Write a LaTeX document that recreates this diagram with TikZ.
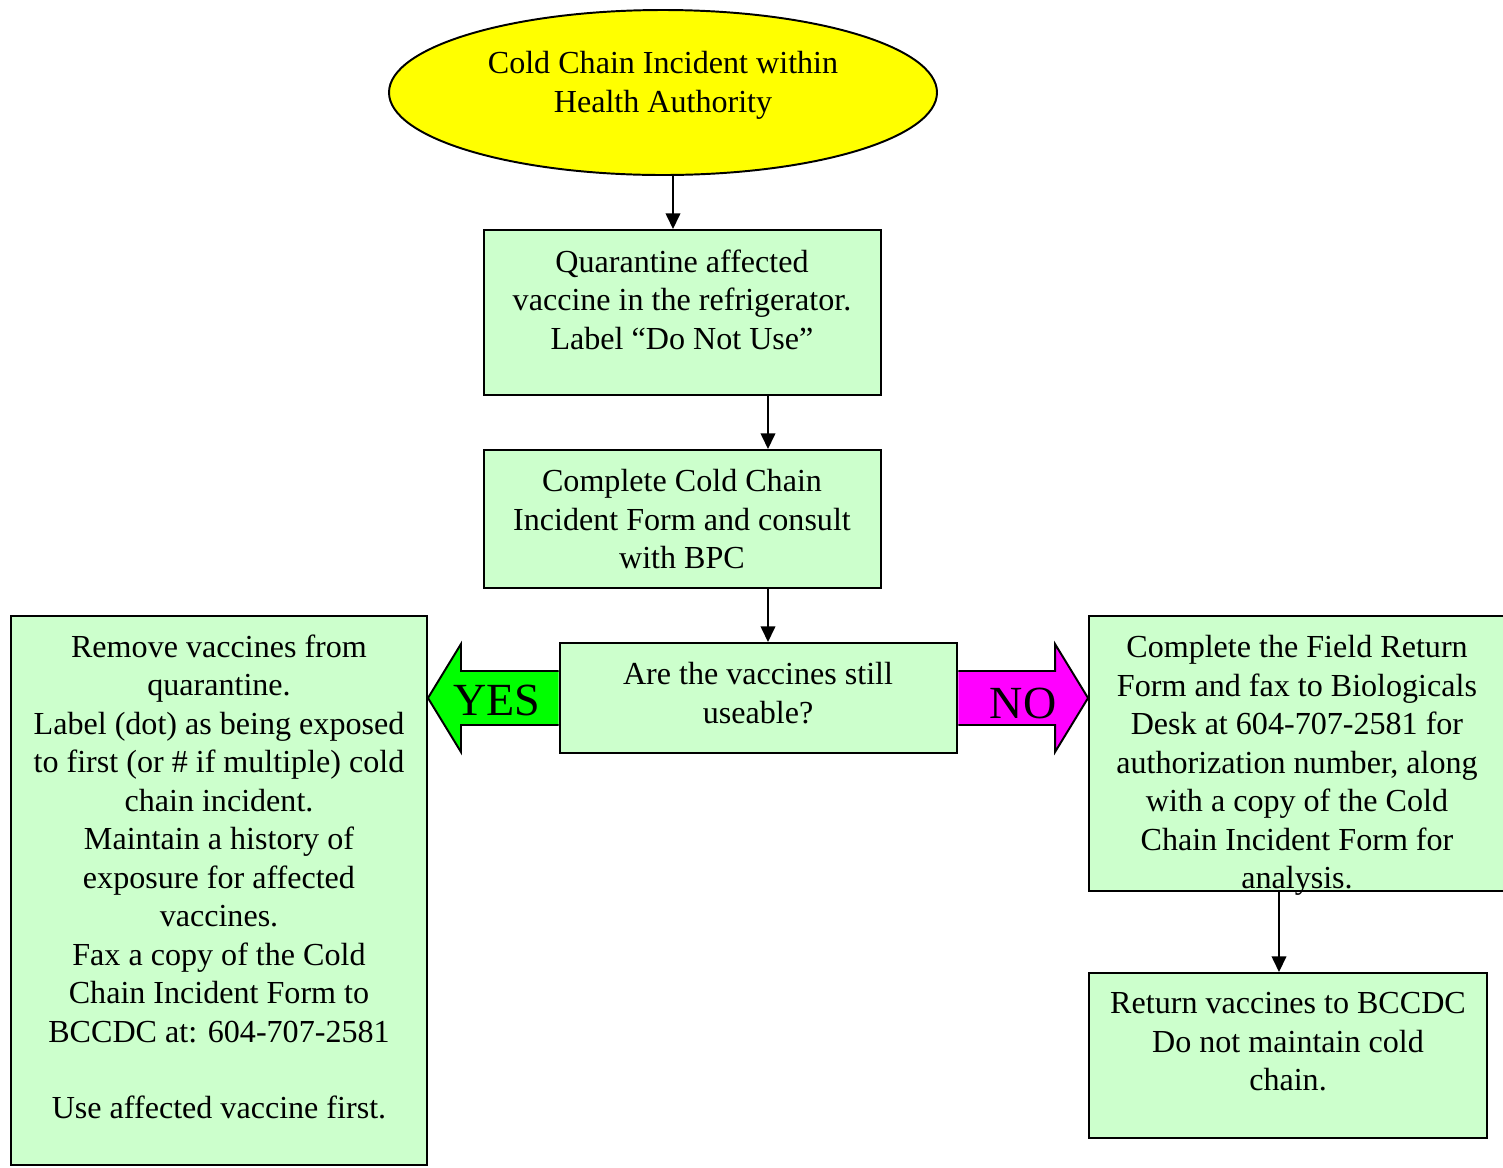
\documentclass[tikz,border=0pt]{standalone}
\usepackage{fontspec}
\setmainfont{Liberation Serif}
\usetikzlibrary{arrows.meta,calc,shapes.geometric}
\newcommand\pxu{0.3584pt}
\definecolor{boxgreen}{HTML}{CCFFCC}
\definecolor{startyellow}{HTML}{FFFF00}
\definecolor{yesgreen}{HTML}{00FF00}
\definecolor{nomagenta}{HTML}{FF00FF}
\tikzset{
  box/.style={draw, rectangle, line width=0.7pt, fill=boxgreen, inner sep=0},
  txt/.style={font=\fontsize{11.5pt}{13.8pt}\selectfont, align=center, inner sep=0, anchor=north},
  arr/.style={-{Triangle[length=5.6pt,width=5.2pt]}, line width=0.7pt},
  blockarrow/.style={line width=0.7pt, line join=miter},
  bigword/.style={font=\fontsize{16.5pt}{18pt}\selectfont, inner sep=0}
}
\begin{document}
\begin{tikzpicture}[x=\pxu,y=-\pxu]
\useasboundingbox (0,0) rectangle (1503,1167);

% start ellipse
\node[ellipse, draw, fill=startyellow, line width=0.7pt, inner sep=0,
      minimum width=548*\pxu, minimum height=165*\pxu] (start) at (663,92.5) {};
\node[txt, anchor=center] (starttxt) at (663,85.5) {Cold Chain Incident within\\Health Authority};

% boxes
\node[box, minimum width=397*\pxu, minimum height=165*\pxu] (b1) at (682.5,312.5) {};
\node[txt] (t1) at (682,249) {Quarantine affected\\vaccine in the refrigerator.\\Label “Do Not Use”};

\node[box, minimum width=397*\pxu, minimum height=138*\pxu] (b2) at (682.5,519) {};
\node[txt] (t2) at (682,469) {Complete Cold Chain\\Incident Form and consult\\with BPC};

\node[box, minimum width=397*\pxu, minimum height=110*\pxu] (dec) at (758.5,698) {};
\node[txt] (tdec) at (758,662) {Are the vaccines still\\useable?};

\node[box, minimum width=416*\pxu, minimum height=549*\pxu] (left) at (219,890.5) {};
\node[txt] (tleft) at (219,634) {Remove vaccines from\\quarantine.\\Label (dot) as being exposed\\to first (or \# if multiple) cold\\chain incident.\\Maintain a history of\\exposure for affected\\vaccines.\\Fax a copy of the Cold\\Chain Incident Form to\\BCCDC at: 604-707-2581\\[13.4pt]Use affected vaccine first.};

\node[box, minimum width=421*\pxu, minimum height=275*\pxu] (right) at (1299.5,753.5) {};

\node[box, minimum width=398*\pxu, minimum height=165*\pxu] (ret) at (1288,1055.5) {};
\node[txt] (tret) at (1288,992) {Return vaccines to BCCDC\\Do not maintain cold\\chain.};

% connectors
\draw[arr] ($(start.south)+(10,0)$) -- ($(b1.north)+(-9.5,0)$);
\draw[arr] ($(b1.south)+(85.5,0)$) -- ($(b2.north)+(85.5,0)$);
\draw[arr] ($(b2.south)+(85.5,0)$) -- ($(dec.north)+(9.5,0)$);
\draw[arr] ($(right.south)+(-20.5,0)$) -- ($(ret.north)+(-9,0)$);

\node[txt] (tright) at (1297,635) {Complete the Field Return\\Form and fax to Biologicals\\Desk at 604-707-2581 for\\authorization number, along\\with a copy of the Cold\\Chain Incident Form for\\analysis.};

% YES block arrow
\coordinate (ytip) at (left.east |- dec.west);
\draw[blockarrow, fill=yesgreen] ($(dec.west)+(-0.5,-27)$) -- ($(ytip)+(33,-27)$) -- ($(ytip)+(33,-54)$) -- (ytip) -- ($(ytip)+(33,54)$) -- ($(ytip)+(33,27)$) -- ($(dec.west)+(-0.5,27)$);
\node[bigword] (yes) at (497,700) {YES};

% NO block arrow
\coordinate (ntip) at (right.west |- dec.east);
\draw[blockarrow, fill=nomagenta] ($(dec.east)+(0.5,-27)$) -- ($(ntip)+(-33,-27)$) -- ($(ntip)+(-33,-54)$) -- (ntip) -- ($(ntip)+(-33,54)$) -- ($(ntip)+(-33,27)$) -- ($(dec.east)+(0.5,27)$);
\node[bigword] (no) at (1023,703) {NO};
\end{tikzpicture}
\end{document}
